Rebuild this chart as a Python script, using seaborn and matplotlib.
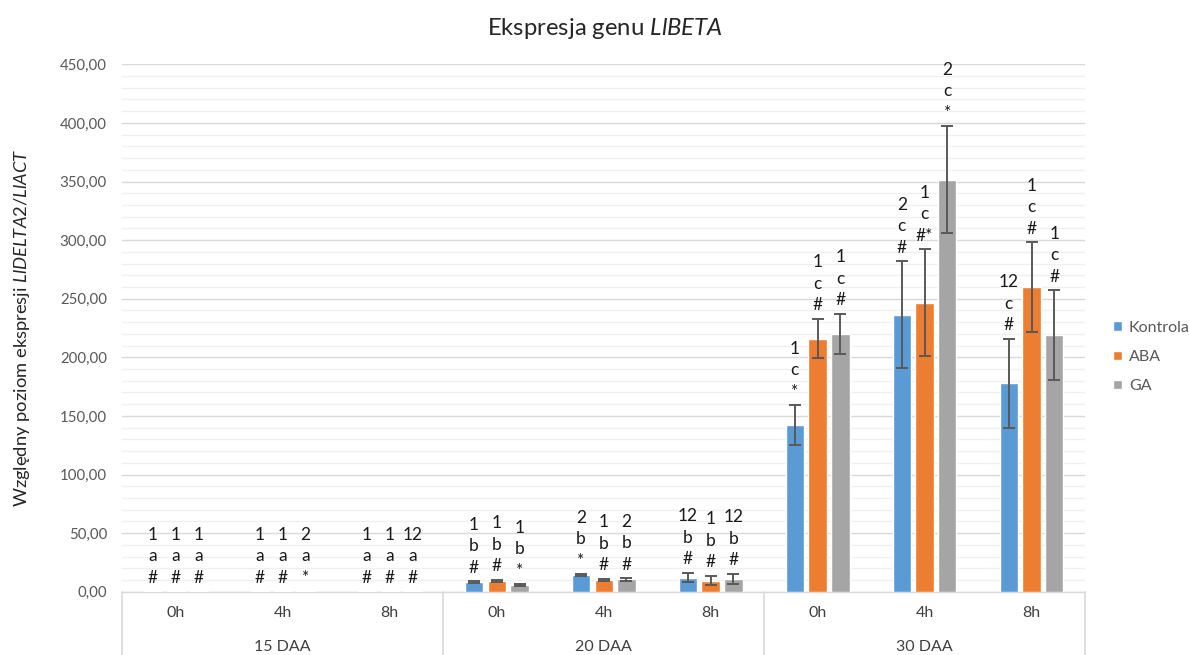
import numpy as np
import pandas as pd
import matplotlib
matplotlib.use("Agg")
import matplotlib.pyplot as plt
from matplotlib.ticker import FuncFormatter, MultipleLocator
import seaborn as sns

# ---------------- data ----------------
days = ["15 DAA", "20 DAA", "30 DAA"]
hours = ["0h", "4h", "8h"]
treatments = ["Kontrola", "ABA", "GA"]

kontrola = [0.3, 0.3, 0.3, 8.0, 14.0, 12.0, 142.0, 236.5, 178.0]
aba = [0.3, 0.3, 0.3, 9.5, 10.0, 9.5, 216.0, 246.5, 260.0]
ga = [0.2, 0.2, 0.3, 5.5, 10.5, 11.0, 220.0, 351.5, 219.0]

kontrola_err = [0, 0, 0, 0.8, 1.0, 4.0, 17.0, 45.5, 38.0]
aba_err = [0, 0, 0, 0.8, 1.0, 4.2, 17.0, 45.5, 38.0]
ga_err = [0, 0, 0, 0.8, 1.0, 4.3, 17.0, 45.7, 38.0]

kontrola_lbl = ["1\na\n#", "1\na\n#", "1\na\n#", "1\nb\n#", "2\nb\n*", "12\nb\n#",
                "1\nc\n*", "2\nc\n#", "12\nc\n#"]
aba_lbl = ["1\na\n#", "1\na\n#", "1\na\n#", "1\nb\n#", "1\nb\n#", "1\nb\n#",
           "1\nc\n#", "1\nc\n#*", "1\nc\n#"]
ga_lbl = ["1\na\n#", "2\na\n*", "12\na\n#", "1\nb\n*", "2\nb\n#", "12\nb\n#",
          "1\nc\n#", "2\nc\n*", "1\nc\n#"]

colors = ["#5B9BD5", "#ED7D31", "#A5A5A5"]

# ---------------- build table ----------------
cats = [f"{d}|{h}" for d in days for h in hours]
values = {"Kontrola": kontrola, "ABA": aba, "GA": ga}
errs = {"Kontrola": kontrola_err, "ABA": aba_err, "GA": ga_err}
lbls = {"Kontrola": kontrola_lbl, "ABA": aba_lbl, "GA": ga_lbl}
rows = []
for t in treatments:
    for c, v in zip(cats, values[t]):
        rows.append({"cat": c, "treatment": t, "value": v})
df = pd.DataFrame(rows)

# ---------------- style ----------------
sns.set_style("white")
plt.rcParams["font.family"] = ["Lato", "DejaVu Sans"]
plt.rcParams["mathtext.fontset"] = "custom"
plt.rcParams["mathtext.rm"] = "Lato"
plt.rcParams["mathtext.it"] = "Lato:italic"

W, H = 1189, 655
fig = plt.figure(figsize=(W / 100, H / 100), dpi=100)
ax_left, ax_right, ax_top, ax_bot = 122.3, 1085.0, 64.3, 591.7
ax = fig.add_axes([ax_left / W, (H - ax_bot) / H, (ax_right - ax_left) / W, (ax_bot - ax_top) / H])

sns.barplot(data=df, x="cat", y="value", hue="treatment", order=cats,
            hue_order=treatments, palette=colors, width=0.64, gap=0.2,
            errorbar=None, ax=ax, saturation=1, zorder=3)

ax.set_xlim(-0.5, len(cats) - 0.5)
ax.set_ylim(0, 450)
ax.yaxis.set_major_locator(MultipleLocator(50))
ax.yaxis.set_minor_locator(MultipleLocator(10))
ax.yaxis.set_major_formatter(FuncFormatter(lambda v, p: f"{v:.2f}".replace(".", ",")))
ax.grid(axis="y", which="major", color="#D9D9D9", lw=1.0, zorder=0)
ax.grid(axis="y", which="minor", color="#F0F0F0", lw=1.0, zorder=0)
ax.set_axisbelow(True)
for s in ["left", "right", "top"]:
    ax.spines[s].set_visible(False)
ax.spines["bottom"].set_color("#D9D9D9")
ax.spines["bottom"].set_linewidth(1.0)

ax.tick_params(axis="y", which="both", length=0, pad=11, labelsize=10.8, labelcolor="#595959")
ax.tick_params(axis="x", length=0, pad=10, labelsize=11.5, labelcolor="#404040")
ax.set_xticks(range(len(cats)))
ax.set_xticklabels([c.split("|")[1] for c in cats])
ax.set_xlabel("")
ax.set_ylabel("")

# error bars + annotations
for t, cont in zip(treatments, ax.containers):
    for i, bar in enumerate(cont):
        x = bar.get_x() + bar.get_width() / 2
        h = bar.get_height()
        e = errs[t][i]
        if e > 0:
            ax.errorbar(x, h, yerr=e, fmt="none", ecolor="#595959", elinewidth=1.4,
                        capsize=4, capthick=1.4, zorder=4)
        ax.annotate(lbls[t][i], xy=(x, h + e), xytext=(0, 4.0), textcoords="offset points",
                    ha="center", va="bottom", fontsize=12.5, linespacing=1.42, color="#1A1A1A",
                    zorder=5)

# category table lines and group labels
trans = ax.get_xaxis_transform()
bottom_ax = -(H - ax_bot) / (ax_bot - ax_top)
for xb in [-0.5, 2.5, 5.5, 8.5]:
    ax.plot([xb, xb], [0, bottom_ax], transform=trans, color="#D9D9D9", lw=1.2, clip_on=False)
for k, d in enumerate(days):
    ax.text(3 * k + 1, -(647 - ax_bot) / (ax_bot - ax_top), d, transform=trans,
            ha="center", va="center", fontsize=11.5, color="#404040")

# legend
handles, labels = ax.get_legend_handles_labels()
ax.legend(handles, labels, loc="center left", bbox_to_anchor=(1113 / W, 1 - 357 / H),
          bbox_transform=fig.transFigure, frameon=False, fontsize=11.5,
          handlelength=0.55, handleheight=0.55, handletextpad=0.45, labelspacing=0.95,
          borderpad=0, borderaxespad=0, labelcolor="#595959")

# title and y label
fig.text(605 / W, 1 - 35 / H, r"Ekspresja genu $\mathit{LlBETA}$", ha="center", va="baseline",
         fontsize=17.2, color="#262626")
fig.text(22 / W, 1 - 327.7 / H, r"Względny poziom ekspresji $\mathit{LlDELTA2/LlACT}$",
         rotation=90, ha="center", va="center", fontsize=13.2, color="#262626")

fig.savefig("out.png", dpi=100)
